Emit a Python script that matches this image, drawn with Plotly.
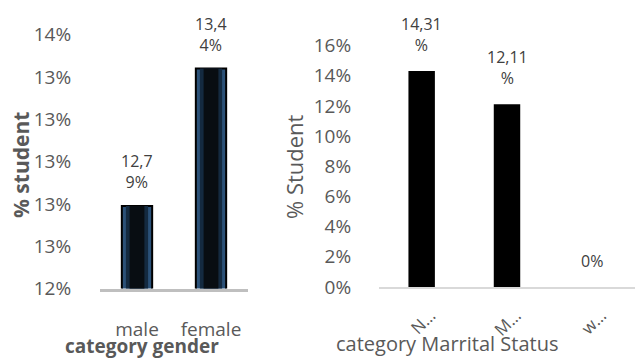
import plotly.graph_objects as go

# ---- data ----
gender_cats = ["male", "female"]
gender_vals = [0.1279, 0.1344]
gender_labels = ["12,7<br>9%", "13,4<br>4%"]

marital_cats = ["N…", "M…", "w…"]
marital_vals = [0.1431, 0.1211, 0.0]
marital_labels = ["14,31<br>%", "12,11<br>%", "0%"]

FONT = "Open Sans"
GRAY = "#595959"
LABEL = "#404040"
W, H = 635, 359

fig = go.Figure()

# left panel: layered bars to mimic glow
fig.add_trace(go.Bar(x=gender_cats, y=gender_vals, width=0.41,
                     marker=dict(color="#2b5178", line=dict(color="#000000", width=2)),
                     xaxis="x", yaxis="y", showlegend=False, hoverinfo="skip"))
fig.add_trace(go.Bar(x=gender_cats, y=gender_vals, width=0.30,
                     marker=dict(color="#142a40", line=dict(width=0)),
                     xaxis="x", yaxis="y", showlegend=False, hoverinfo="skip"))
fig.add_trace(go.Bar(x=gender_cats, y=gender_vals, width=0.20,
                     marker=dict(color="#080d12", line=dict(width=0)),
                     xaxis="x", yaxis="y", showlegend=False, hoverinfo="skip"))

# right panel
fig.add_trace(go.Bar(x=marital_cats, y=marital_vals, width=0.31,
                     marker=dict(color="#000000", line=dict(width=0)),
                     xaxis="x2", yaxis="y2", showlegend=False, hoverinfo="skip"))

def ypx(p):
    return 1 - p / H

annotations = []
for c, v, t in zip(gender_cats, gender_vals, gender_labels):
    annotations.append(dict(text=t, x=c, y=v, xref="x", yref="y", showarrow=False,
                            yanchor="bottom", xanchor="center", yshift=11,
                            font=dict(size=16, color=LABEL)))
for c, v, t in zip(marital_cats, marital_vals, marital_labels):
    annotations.append(dict(text=t, x=c, y=v, xref="x2", yref="y2", showarrow=False,
                            yanchor="bottom", xanchor="center", yshift=13,
                            font=dict(size=16, color=LABEL)))

annotations += [
    dict(text="<b>% student</b>", x=21 / W, y=ypx(165), xref="paper", yref="paper",
         textangle=-90, showarrow=False, font=dict(size=21, color=GRAY),
         xanchor="center", yanchor="middle"),
    dict(text="<b>category gender</b>", x=142 / W, y=ypx(346), xref="paper", yref="paper",
         showarrow=False, font=dict(size=19, color=GRAY),
         xanchor="center", yanchor="middle"),
    dict(text="% Student", x=294 / W, y=ypx(167), xref="paper", yref="paper",
         textangle=-90, showarrow=False, font=dict(size=22, color=GRAY),
         xanchor="center", yanchor="middle"),
    dict(text="category Marrital Status", x=447 / W, y=ypx(343), xref="paper", yref="paper",
         showarrow=False, font=dict(size=20, color=GRAY),
         xanchor="center", yanchor="middle"),
]

fig.update_layout(
    width=W, height=H,
    margin=dict(l=0, r=0, t=0, b=0, autoexpand=False),
    paper_bgcolor="white", plot_bgcolor="white",
    barmode="overlay",
    separators=",.",
    font=dict(family=FONT, color=GRAY, size=18),
    xaxis=dict(domain=[100 / W, 248 / W], anchor="y", range=[-0.5, 1.5], automargin=False,
               showline=True, linecolor="#bfbfbf", linewidth=3,
               showgrid=False, zeroline=False,
               ticks="outside", ticklen=22, tickcolor="rgba(0,0,0,0)",
               tickfont=dict(size=19, color=GRAY)),
    yaxis=dict(domain=[ypx(288.5), ypx(34.7)], anchor="x", automargin=False,
               range=[0.124, 0.136], tick0=0.124, dtick=0.002, tickformat=".0%",
               showline=False, showgrid=False, zeroline=False,
               ticks="outside", ticklen=24, tickcolor="rgba(0,0,0,0)",
               tickfont=dict(size=19, color=GRAY)),
    xaxis2=dict(domain=[379 / W, 1.0], anchor="y2", range=[-0.5, 2.5], automargin=False,
                showline=True, linecolor="#d9d9d9", linewidth=2,
                showgrid=False, zeroline=False, tickangle=-45,
                ticks="outside", ticklen=10, tickcolor="rgba(0,0,0,0)",
                ticklabelshift=9,
                tickfont=dict(size=17, color=GRAY)),
    yaxis2=dict(domain=[ypx(287), ypx(45.6)], anchor="x2", automargin=False,
                range=[0, 0.16], dtick=0.02, tickformat=".0%",
                showline=False, showgrid=False, zeroline=False,
                ticks="outside", ticklen=23, tickcolor="rgba(0,0,0,0)",
                tickfont=dict(size=19, color=GRAY)),
    annotations=annotations,
)

fig.write_html("out.html")
